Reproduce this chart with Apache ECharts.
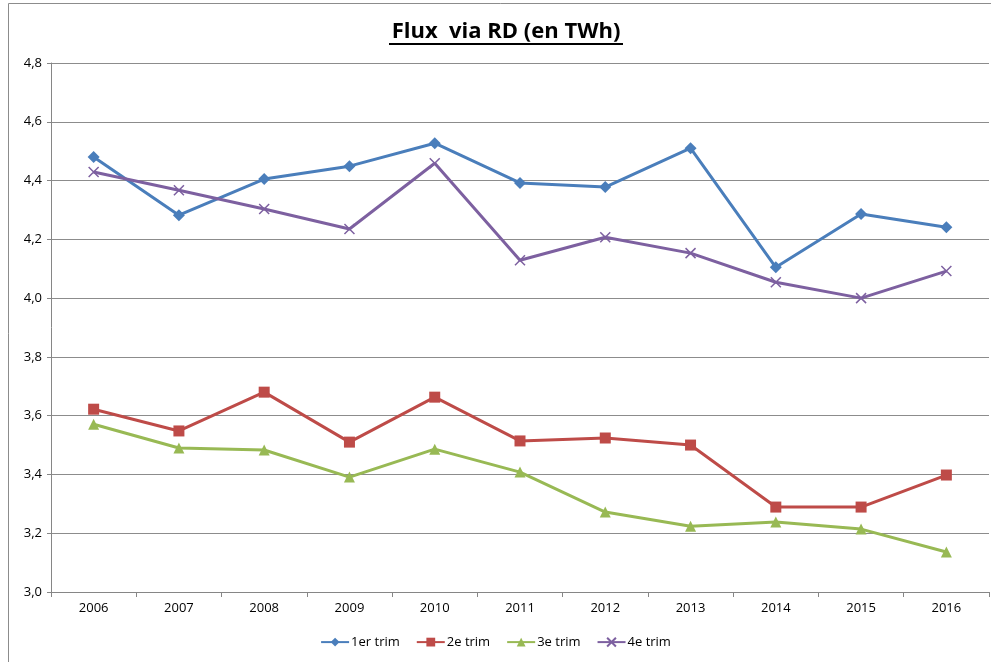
<!DOCTYPE html>
<html>
<head>
<meta charset="utf-8">
<script src="https://cdn.jsdelivr.net/npm/echarts@6/dist/echarts.min.js"></script>
<style>
  html, body { margin: 0; padding: 0; background: #fff; }
  #chart { width: 991px; height: 662px; }
</style>
</head>
<body>
<div id="chart"></div>
<script>
const years = ['2006', '2007', '2008', '2009', '2010', '2011', '2012', '2013', '2014', '2015', '2016'];
const trim1 = [4.48, 4.282, 4.405, 4.449, 4.527, 4.392, 4.378, 4.51, 4.105, 4.286, 4.241];
const trim2 = [3.622, 3.548, 3.68, 3.51, 3.663, 3.514, 3.524, 3.5, 3.289, 3.289, 3.398];
const trim3 = [3.571, 3.49, 3.483, 3.391, 3.486, 3.408, 3.272, 3.224, 3.238, 3.214, 3.136];
const trim4 = [4.429, 4.367, 4.303, 4.235, 4.459, 4.129, 4.207, 4.153, 4.054, 4.0, 4.092];

const font = 'Open Sans';
const chart = echarts.init(document.getElementById('chart'));

function line(name, data, color, symbol, size, extra) {
  return Object.assign({
    name: name,
    type: 'line',
    data: data,
    symbol: symbol,
    symbolSize: size,
    showAllSymbol: true,
    lineStyle: { color: color, width: 3 },
    itemStyle: { color: color },
    emphasis: { disabled: true }
  }, extra || {});
}

chart.setOption({
  animation: false,
  title: {
    text: 'Flux  via RD (en TWh)',
    left: 501,
    textAlign: 'center',
    top: 16,
    textStyle: { fontFamily: font, fontSize: 22, fontWeight: 'bold', color: '#000' }
  },
  graphic: [
    { type: 'rect', shape: { x: 8.5, y: 3.5, width: 1000, height: 700 },
      style: { fill: 'none', stroke: '#8c8c8c', lineWidth: 1 }, silent: true },
    { type: 'line', shape: { x1: 389, y1: 44, x2: 623, y2: 44 },
      style: { stroke: '#000', lineWidth: 2 }, silent: true }
  ],
  legend: {
    bottom: 8,
    left: 'center',
    itemWidth: 28,
    itemHeight: 11,
    itemGap: 16,
    textStyle: { fontFamily: font, fontSize: 13, color: '#000', padding: [0, 0, 0, -3] },
    data: ['1er trim', '2e trim', '3e trim', '4e trim']
  },
  grid: { left: 51, right: 2, top: 63, bottom: 70 },
  xAxis: {
    type: 'category',
    data: years,
    boundaryGap: true,
    axisLine: { lineStyle: { color: '#868686', width: 1 } },
    axisTick: { show: true, length: 5, lineStyle: { color: '#868686' } },
    axisLabel: { fontFamily: font, fontSize: 13, color: '#000', margin: 10 }
  },
  yAxis: {
    type: 'value',
    min: 3.0,
    max: 4.8,
    interval: 0.2,
    axisLine: { show: true, lineStyle: { color: '#868686', width: 1 } },
    axisTick: { show: true, length: 4, lineStyle: { color: '#868686' } },
    splitLine: { lineStyle: { color: '#8c8c8c', width: 1 } },
    axisLabel: {
      fontFamily: font, fontSize: 13, color: '#000', margin: 9,
      formatter: v => v.toFixed(1).replace('.', ',')
    }
  },
  series: [
    line('1er trim', trim1, '#4A7EBB', 'diamond', 12),
    line('2e trim', trim2, '#BE4B48', 'rect', 11),
    line('3e trim', trim3, '#98B954', 'triangle', 11),
    line('4e trim', trim4, '#7D60A0', 'path://M0,0L10,10M10,0L0,10', 10, {
      itemStyle: { color: 'none', borderColor: '#7D60A0', borderWidth: 1.5 }
    })
  ]
});
</script>
</body>
</html>
